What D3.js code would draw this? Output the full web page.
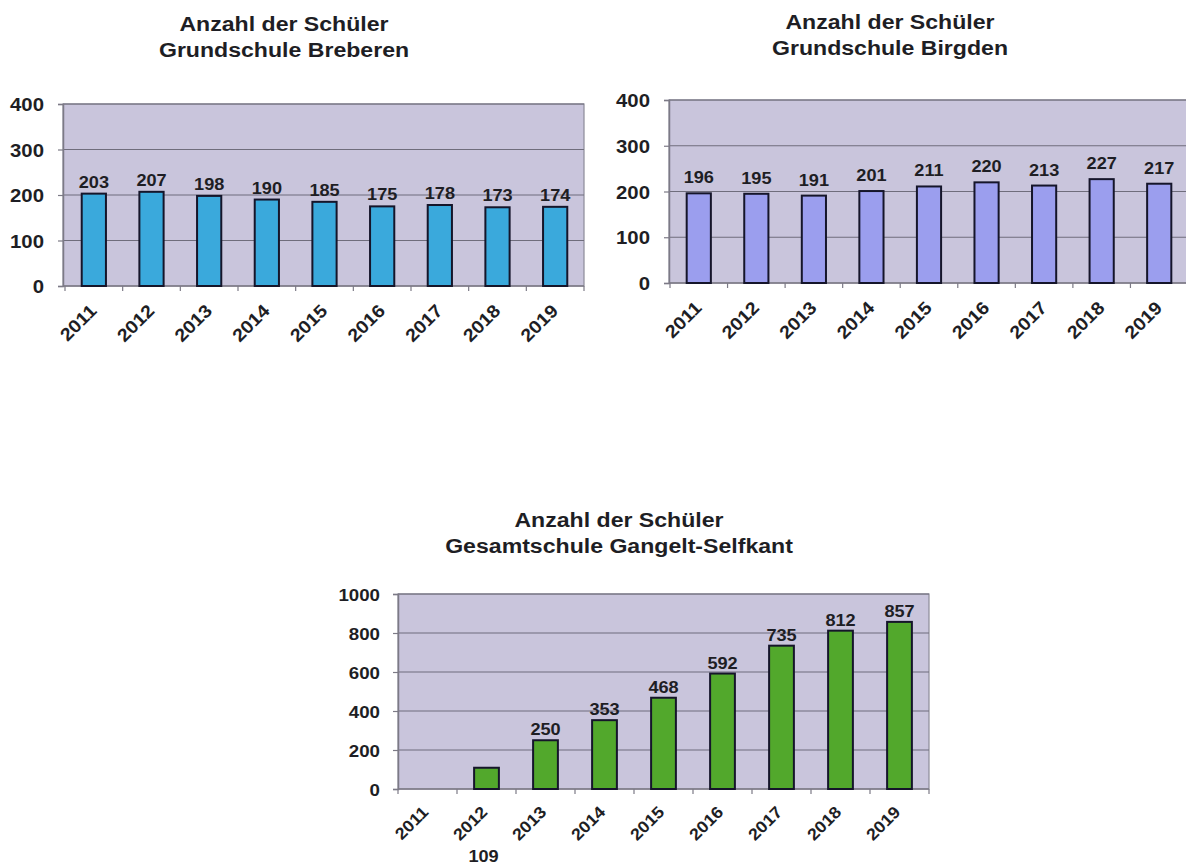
<!DOCTYPE html>
<html>
<head>
<meta charset="utf-8">
<script src="https://cdn.jsdelivr.net/npm/d3@7"></script>
<style>
  html, body { margin: 0; padding: 0; background: #ffffff; }
  svg { display: block; }
  text { font-family: "Liberation Sans", Arial, sans-serif; font-weight: bold; fill: #1e1e24; }
</style>
</head>
<body>
<svg id="chart" width="1186" height="867"></svg>
<script>
// ---------- data ----------
const years = ["2011", "2012", "2013", "2014", "2015", "2016", "2017", "2018", "2019"];
const breberenValues = [203, 207, 198, 190, 185, 175, 178, 173, 174];
const birgdenValues  = [196, 195, 191, 201, 211, 220, 213, 227, 217];
const gesamtValues   = [null, 109, 250, 353, 468, 592, 735, 812, 857];
const smallTicks = [0, 100, 200, 300, 400];
const largeTicks = [0, 200, 400, 600, 800, 1000];
const titleLine1 = "Anzahl der Schüler";
const breberenTitle = "Grundschule Breberen";
const birgdenTitle = "Grundschule Birgden";
const gesamtTitle = "Gesamtschule Gangelt-Selfkant";
const gesamtLabelBelow = ["2012"];

const svg = d3.select("#chart");
const SX = 1.1; // horizontal stretch of the scanned glyphs

function stretchedText(g, x, y, str, size, anchor, rot) {
  return g.append("text")
    .attr("transform", `translate(${x},${y})` + (rot ? ` rotate(${rot})` : "") + ` scale(${SX},1)`)
    .attr("text-anchor", anchor)
    .style("font-size", size + "px")
    .text(str);
}

function drawChart(cfg) {
  const g = svg.append("g");
  const x = d3.scaleBand().domain(years)
    .range([cfg.bandL, cfg.bandR]).paddingInner(0.58).paddingOuter(0.29);
  const y = d3.scaleLinear().domain([0, cfg.max]).range([cfg.bottom, cfg.top]);

  // title
  stretchedText(g, cfg.titleX, cfg.titleY, titleLine1, 21, "middle");
  stretchedText(g, cfg.titleX, cfg.titleY + 26, cfg.title, 21, "middle");

  // plot background
  g.append("rect")
    .attr("x", cfg.left).attr("y", cfg.top)
    .attr("width", cfg.right - cfg.left).attr("height", cfg.bottom - cfg.top)
    .attr("fill", "#c9c5dc").attr("stroke", "#8c8a98").attr("stroke-width", 1.2);

  // gridlines
  g.selectAll("line.grid").data(cfg.ticks.filter(t => t > 0)).join("line")
    .attr("class", "grid")
    .attr("x1", cfg.left).attr("x2", cfg.right)
    .attr("y1", d => y(d)).attr("y2", d => y(d))
    .attr("stroke", "#6f6d7c").attr("stroke-width", 1.1);

  // y axis
  const yAxis = d3.axisLeft(y).tickValues(cfg.ticks).tickSize(5).tickPadding(cfg.yPad).tickFormat(d3.format("d"));
  const ya = g.append("g").attr("transform", `translate(${cfg.left},0)`).call(yAxis);
  ya.select(".domain").attr("stroke", "#7c7a86").attr("stroke-width", 1.5);
  ya.selectAll(".tick line").attr("stroke", "#7c7a86").attr("stroke-width", 1.2);
  ya.selectAll(".tick text").remove();
  ya.selectAll(".tick").each(function (d) {
    stretchedText(d3.select(this), -5 - cfg.yPad, 0, d, cfg.ySize, "end").attr("dy", "0.36em");
  });

  // x axis line and boundary ticks
  g.append("line")
    .attr("x1", cfg.left).attr("x2", cfg.right)
    .attr("y1", cfg.bottom).attr("y2", cfg.bottom)
    .attr("stroke", "#7c7a86").attr("stroke-width", 1.5);
  const bounds = d3.range(years.length + 1).map(i => x.range()[0] + i * x.step());
  g.selectAll("line.xt").data(bounds).join("line")
    .attr("class", "xt")
    .attr("x1", d => d).attr("x2", d => d)
    .attr("y1", cfg.bottom).attr("y2", cfg.bottom + 5)
    .attr("stroke", "#7c7a86").attr("stroke-width", 1.2);

  // x labels
  years.forEach(yr => {
    stretchedText(g, x(yr) + x.bandwidth() / 2 + cfg.xDx, cfg.bottom + cfg.xDy, yr, cfg.xSize, "end", -45);
  });

  const data = years.map((yr, i) => ({ yr, v: cfg.values[i] })).filter(d => d.v != null);

  // bars
  g.selectAll("rect.bar").data(data).join("rect")
    .attr("class", "bar")
    .attr("x", d => x(d.yr)).attr("width", x.bandwidth())
    .attr("y", d => y(d.v)).attr("height", d => y(0) - y(d.v))
    .attr("fill", cfg.color).attr("stroke", "#15152a").attr("stroke-width", 2);

  // value labels
  data.forEach(d => {
    const cx = x(d.yr) + x.bandwidth() / 2;
    if (cfg.below && cfg.below.includes(d.yr)) {
      stretchedText(g, cx - 3, cfg.bottom + 73, d.v, cfg.vSize, "middle");
    } else {
      stretchedText(g, cx, y(d.v) - cfg.vGap, d.v, cfg.vSize, "middle");
    }
  });
}

drawChart({
  values: breberenValues, title: breberenTitle, ticks: smallTicks, max: 400,
  left: 63, right: 584, top: 104, bottom: 286, bandL: 65, bandR: 584,
  titleX: 284, titleY: 31, color: "#3aa9dc", yPad: 14, ySize: 18.5, vSize: 16.5, vGap: 6,
  xSize: 18, xDx: 4, xDy: 26
});
drawChart({
  values: birgdenValues, title: birgdenTitle, ticks: smallTicks, max: 400,
  left: 669, right: 1188, top: 100, bottom: 283, bandL: 670, bandR: 1188,
  titleX: 890, titleY: 29, color: "#9b9eee", yPad: 14, ySize: 18.5, vSize: 16.5, vGap: 10,
  xSize: 18, xDx: 4, xDy: 26
});
drawChart({
  values: gesamtValues, title: gesamtTitle, ticks: largeTicks, max: 1000,
  left: 398, right: 929, top: 594, bottom: 789, bandL: 398, bandR: 929,
  titleX: 619, titleY: 527, color: "#52a82c", yPad: 13, ySize: 17, vSize: 16.5, vGap: 5,
  xSize: 16.5, xDx: 2, xDy: 24, below: gesamtLabelBelow
});
</script>
</body>
</html>
